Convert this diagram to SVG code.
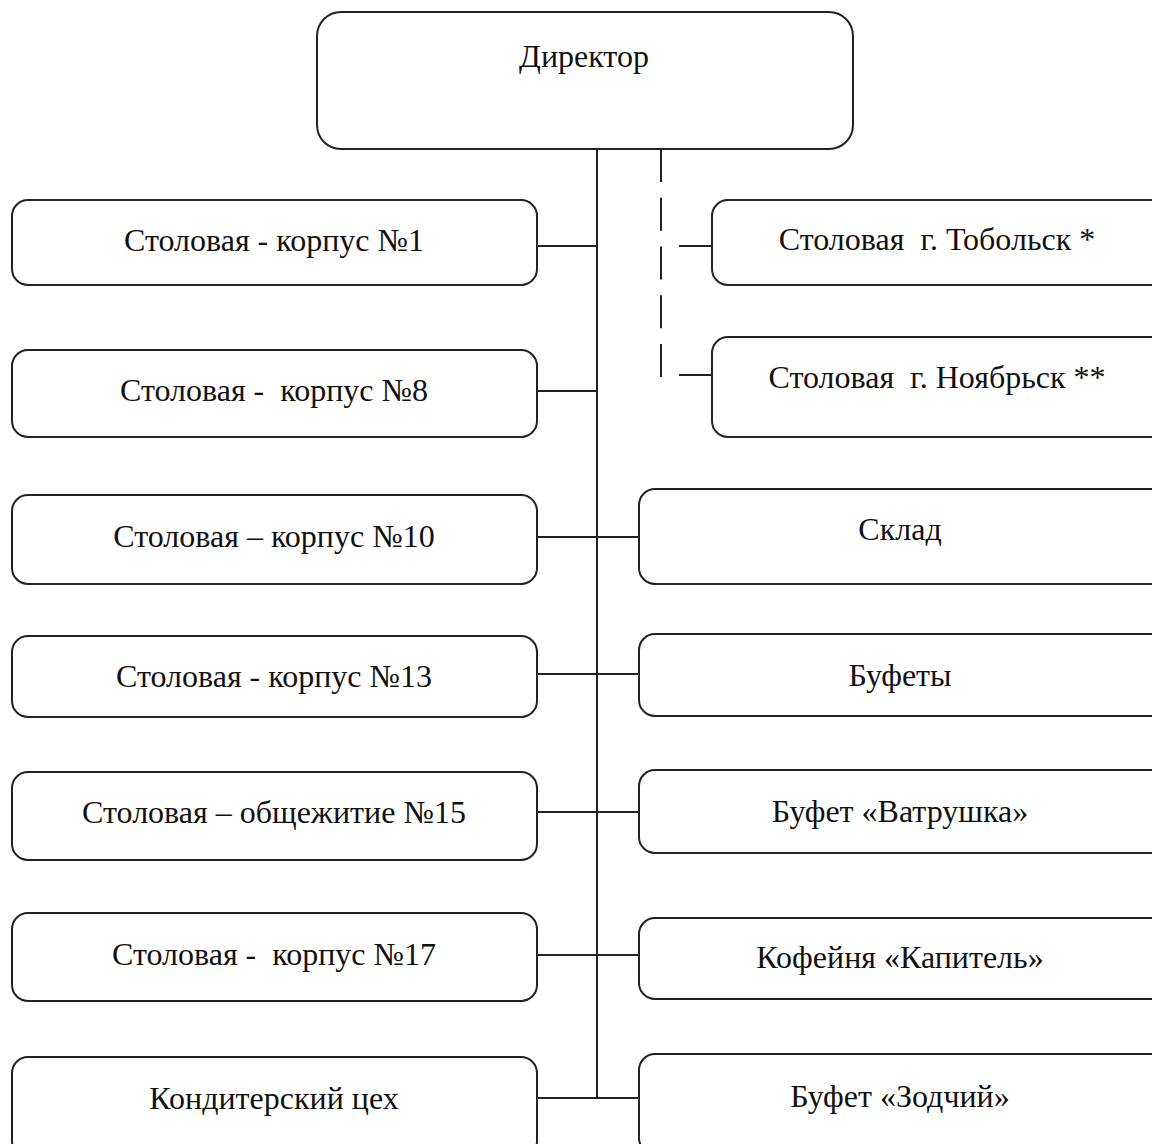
<svg xmlns="http://www.w3.org/2000/svg" width="1152" height="1144" viewBox="0 0 1152 1144">
<style>
.box{fill:#fff;stroke:#222;stroke-width:2}
.t{font-family:"Liberation Serif","Times New Roman",serif;font-size:32px;fill:#111;text-anchor:middle;white-space:pre}
.c{stroke:#222;stroke-width:2;fill:none}
.d{stroke:#222;stroke-width:2;fill:none;stroke-dasharray:33 15.75}
</style>
<rect width="1152" height="1144" fill="#fff"/>
<g id="connectors">
<line class="c" x1="597" y1="149" x2="597" y2="1098"/>
<line class="d" x1="661" y1="149" x2="661" y2="377"/>
<line class="c" x1="537" y1="246" x2="597" y2="246"/>
<line class="c" x1="537" y1="391" x2="597" y2="391"/>
<line class="c" x1="537" y1="537" x2="639" y2="537"/>
<line class="c" x1="537" y1="674" x2="639" y2="674"/>
<line class="c" x1="537" y1="812" x2="639" y2="812"/>
<line class="c" x1="537" y1="955" x2="639" y2="955"/>
<line class="c" x1="537" y1="1098" x2="639" y2="1098"/>
<line class="c" x1="679" y1="246" x2="712" y2="246"/>
<line class="c" x1="679" y1="375" x2="712" y2="375"/>
</g>
<g id="director"><rect class="box" x="317" y="12" width="536" height="137" rx="24"/><text class="t" x="584" y="67">Директор</text></g>
<g id="k1"><rect class="box" x="12" y="200" width="525" height="85" rx="16"/><text class="t" x="274" y="251">Столовая - корпус №1</text></g>
<g id="k8"><rect class="box" x="12" y="350" width="525" height="87" rx="16"/><text class="t" x="274" y="401" xml:space="preserve">Столовая -  корпус №8</text></g>
<g id="k10"><rect class="box" x="12" y="495" width="525" height="89" rx="16"/><text class="t" x="274" y="547">Столовая – корпус №10</text></g>
<g id="k13"><rect class="box" x="12" y="636" width="525" height="81" rx="16"/><text class="t" x="274" y="687">Столовая - корпус №13</text></g>
<g id="o15"><rect class="box" x="12" y="772" width="525" height="88" rx="16"/><text class="t" x="274" y="823">Столовая – общежитие №15</text></g>
<g id="k17"><rect class="box" x="12" y="913" width="525" height="88" rx="16"/><text class="t" x="274" y="965" xml:space="preserve">Столовая -  корпус №17</text></g>
<g id="konditer"><rect class="box" x="12" y="1057" width="525" height="100" rx="16"/><text class="t" x="274" y="1109">Кондитерский цех</text></g>
<g id="tobolsk"><rect class="box" x="712" y="200" width="460" height="85" rx="16"/><text class="t" x="937" y="250" xml:space="preserve">Столовая  г. Тобольск *</text></g>
<g id="noyabrsk"><rect class="box" x="712" y="337" width="460" height="100" rx="16"/><text class="t" x="937" y="388" xml:space="preserve">Столовая  г. Ноябрьск **</text></g>
<g id="sklad"><rect class="box" x="639" y="489" width="533" height="95" rx="16"/><text class="t" x="900" y="540">Склад</text></g>
<g id="bufety"><rect class="box" x="639" y="634" width="533" height="82" rx="16"/><text class="t" x="900" y="686">Буфеты</text></g>
<g id="vatrushka"><rect class="box" x="639" y="770" width="533" height="83" rx="16"/><text class="t" x="900" y="822">Буфет «Ватрушка»</text></g>
<g id="kapitel"><rect class="box" x="639" y="918" width="533" height="81" rx="16"/><text class="t" x="900" y="968">Кофейня «Капитель»</text></g>
<g id="zodchiy"><rect class="box" x="639" y="1054" width="533" height="100" rx="16"/><text class="t" x="900" y="1107">Буфет «Зодчий»</text></g>
</svg>
